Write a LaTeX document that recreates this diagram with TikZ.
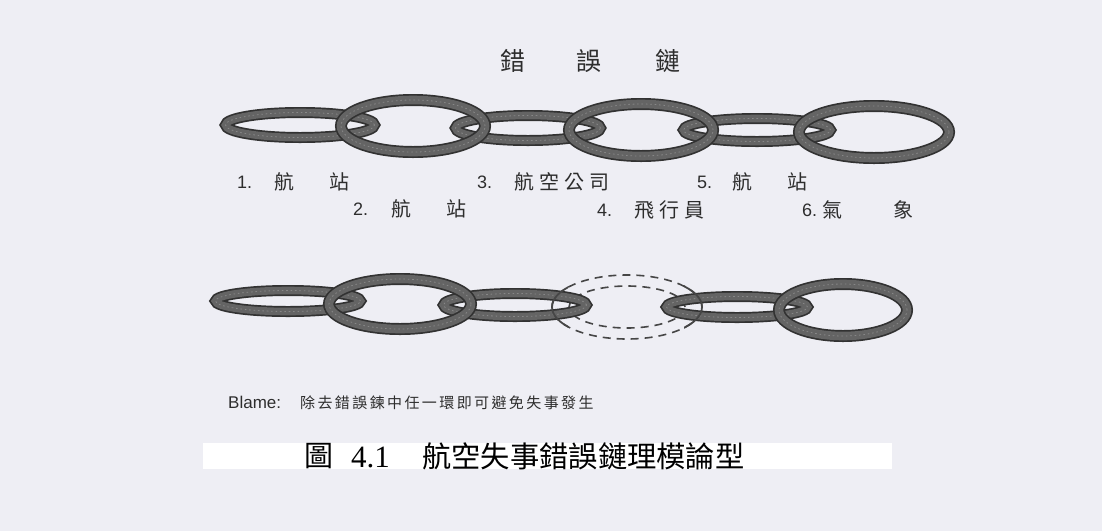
\documentclass[tikz,border=0pt]{standalone}
\usepackage{fontspec}
\setmainfont{Liberation Sans}
\newfontfamily\cjkfont{Noto Sans CJK TC}
\newfontfamily\cjkwide[LetterSpace=25]{Noto Sans CJK TC}
\newfontfamily\cjkblame[LetterSpace=16]{Noto Sans CJK TC}
\newfontfamily\capnum{Liberation Serif}

\definecolor{paper}{RGB}{238,238,244}
\definecolor{ringedge}{RGB}{50,50,50}
\definecolor{ringfill}{RGB}{100,100,100}
\definecolor{ringtex}{RGB}{135,135,135}
\definecolor{inkgray}{RGB}{45,45,45}
\definecolor{gapline}{RGB}{70,70,70}

% one chain link: centre x, centre y, outer x radius, outer y radius, band width
\newcommand\chainlink[5]{%
  \draw[ringedge, line width=#5pt]
    (#1,#2) ellipse [x radius={#3pt-0.5*#5pt}, y radius={#4pt-0.5*#5pt}];
  \draw[ringfill, line width={#5pt-3.4pt}]
    (#1,#2) ellipse [x radius={#3pt-0.5*#5pt}, y radius={#4pt-0.5*#5pt}];
  \draw[ringtex, line width=0.8pt, dash pattern=on 1.6pt off 2.8pt]
    (#1,#2) ellipse [x radius={#3pt-0.5*#5pt}, y radius={#4pt-0.5*#5pt}];
}

\tikzset{
  lbl/.style={anchor=west, inner sep=0pt, text=inkgray},
  numlbl/.style={lbl, font=\fontsize{18}{18}\selectfont},
  cjklbl/.style={lbl, font=\cjkfont\fontsize{20}{20}\selectfont},
  cjkrun/.style={lbl, font=\cjkwide\fontsize{20}{20}\selectfont},
  titlechar/.style={inner sep=0pt, text=inkgray, font=\cjkfont\fontsize{25}{25}\selectfont},
  ghost/.style={draw=gapline, line width=1.6pt, dash pattern=on 8pt off 6pt},
}

\begin{document}
\begin{tikzpicture}[x=1pt, y=-1pt]
  \useasboundingbox (0,0) rectangle (1102,531);
  \fill[paper] (0,0) rectangle (1102,531);

  % heading
  \node[titlechar] (t1) at (513,61) {錯};
  \node[titlechar] (t2) at (589,61) {誤};
  \node[titlechar] (t3) at (668,61) {鏈};

  % complete chain: narrow links first, wide links over them
  \chainlink{300}{125}{80}{18}{11}
  \chainlink{528}{128}{78}{18}{11}
  \chainlink{757}{130}{79}{17}{11}
  \chainlink{413}{126}{78}{32}{12}
  \chainlink{641}{130}{78}{32}{12}
  \chainlink{874}{132}{81}{32}{12}

  % link names
  \node[numlbl] (n1) at (237,182) {1.};
  \node[cjklbl] (c1a) at (274,182) {航};
  \node[cjklbl] (c1b) at (329,182) {站};
  \node[numlbl] (n3) at (477,182) {3.};
  \node[cjkrun] (c3) at (514,182) {航空公司};
  \node[numlbl] (n5) at (697,182) {5.};
  \node[cjklbl] (c5a) at (732,182) {航};
  \node[cjklbl] (c5b) at (787,182) {站};

  \node[numlbl] (n2) at (353,209) {2.};
  \node[cjklbl] (c2a) at (391,209) {航};
  \node[cjklbl] (c2b) at (446,209) {站};
  \node[numlbl] (n4) at (597,210) {4.};
  \node[cjkrun] (c4) at (634,210) {飛行員};
  \node[numlbl] (n6) at (802,210) {6.};
  \node[cjklbl] (c6a) at (822,210) {氣};
  \node[cjklbl] (c6b) at (893,210) {象};

  % broken chain: the missing link is only outlined
  \draw[ghost] (627,307) ellipse [x radius=75pt, y radius=32pt];
  \draw[ghost] (627,307) ellipse [x radius=58pt, y radius=21pt];

  \chainlink{288}{301}{78}{16}{11}
  \chainlink{515}{305}{77}{17}{11}
  \chainlink{737}{307}{76}{16}{11}
  \chainlink{400}{304}{77}{31}{12}
  \chainlink{843}{310}{70}{32}{12}

  % cut marks where the neighbours met the removed link
  \begin{scope}
    \clip (538,284) rectangle (568,328);
    \draw[gapline, line width=1.8pt] (627,307) ellipse [x radius=75pt, y radius=32pt];
  \end{scope}
  \begin{scope}
    \clip (684,284) rectangle (714,328);
    \draw[gapline, line width=1.8pt] (627,307) ellipse [x radius=75pt, y radius=32pt];
  \end{scope}

  % note
  \node[anchor=base west, inner sep=0pt, text=inkgray,
        font=\fontsize{17}{17}\selectfont] (blame) at (228,408) {Blame:};
  \node[anchor=base west, inner sep=0pt, text=inkgray,
        font=\cjkblame\fontsize{15}{15}\selectfont] (note) at (300,408)
        {除去錯誤鍊中任一環即可避免失事發生};

  % caption strip
  \fill[white] (203,443) rectangle (892,469);
  \node[anchor=west, inner sep=0pt, font=\cjkfont\fontsize{29}{29}\selectfont]
    (fig) at (304,456) {圖};
  \node[anchor=west, inner sep=0pt, font=\capnum\fontsize{31}{31}\selectfont]
    (fignum) at (351,457) {4.1};
  \node[anchor=west, inner sep=0pt, font=\cjkfont\fontsize{29.3}{29.3}\selectfont]
    (figtitle) at (422,456) {航空失事錯誤鏈理模論型};
\end{tikzpicture}
\end{document}
